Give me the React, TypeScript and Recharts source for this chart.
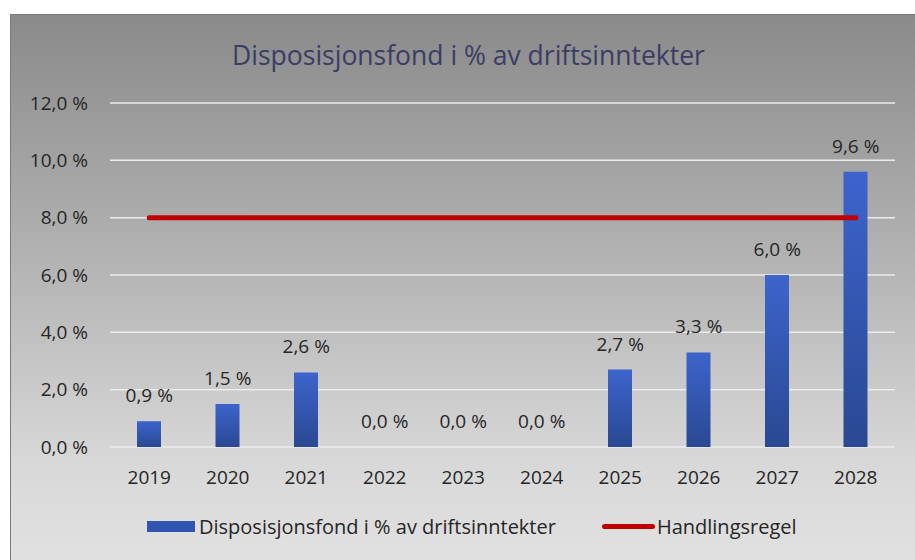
import { Bar, ComposedChart, LabelList, Line, XAxis, YAxis, CartesianGrid } from "recharts";

// Disposisjonsfond i % av driftsinntekter, 2019-2028
const years = ["2019", "2020", "2021", "2022", "2023", "2024", "2025", "2026", "2027", "2028"];
const fond = [0.9, 1.5, 2.6, 0, 0, 0, 2.7, 3.3, 6.0, 9.6];
const regel = [8, 8, 8, 8, 8, 8, 8, 8, 8, 8];
const yTicks = [0, 2, 4, 6, 8, 10, 12];

const FONT = "'Open Sans', sans-serif";
const TEXT = "#262626";
const BAR_NAME = "Disposisjonsfond i % av driftsinntekter";
const LINE_NAME = "Handlingsregel";

const data = years.map((year, i) => ({ year, fond: fond[i], regel: regel[i] }));

const pct = (v: number) => `${v.toFixed(1).replace(".", ",")} %`;

// one-line value label above each bar top; hung on an invisible line through the
// bar tops, because the bar's own label list skips the 0,0 % bars
function ValueLabel(props: any) {
  const { x, y, value } = props;
  return (
    <text x={Number(x)} y={Number(y) - 19} textAnchor="middle" fill={TEXT} fontSize={19} fontFamily={FONT}>
      {pct(Number(value))}
    </text>
  );
}

function LegendView() {
  return (
    <div
      style={{
        position: "absolute",
        left: 147,
        top: 513,
        display: "flex",
        alignItems: "center",
        fontFamily: FONT,
        fontSize: 20,
        color: TEXT,
        whiteSpace: "nowrap",
      }}
    >
      <span style={{ display: "inline-block", width: 48, height: 11, background: "#2f55b0", marginRight: 4 }} />
      <span style={{ marginRight: 46 }}>{BAR_NAME}</span>
      <span style={{ display: "inline-block", width: 53, height: 5, borderRadius: 3, background: "#c00000", marginRight: 2 }} />
      <span>{LINE_NAME}</span>
    </div>
  );
}

export default function App() {
  return (
    <div
      style={{
        position: "absolute",
        left: 0,
        top: 0,
        width: 915,
        height: 560,
        background: "#fff",
        overflow: "hidden",
      }}
    >
      <div
        style={{
          position: "absolute",
          left: 10,
          top: 14,
          width: 910,
          height: 560,
          borderLeft: "1px solid #7a7a7a",
          borderTop: "1px solid #7a7a7a",
          background: "linear-gradient(to bottom, #8a8a8a 0%, #b4b4b4 45%, #d8d8d8 80%, #e2e2e2 100%)",
        }}
      />
      <div
        style={{
          position: "absolute",
          left: 0,
          top: 37,
          width: 937,
          textAlign: "center",
          fontFamily: FONT,
          fontSize: 26.5,
          color: "#3a3d64",
        }}
      >
        {BAR_NAME}
      </div>
      <div style={{ position: "absolute", left: 0, top: 0 }}>
        <ComposedChart width={915} height={560} data={data} margin={{ top: 103, right: 20, bottom: 0, left: 0 }}>
          <defs>
            <linearGradient id="barFill" x1="0" y1="0" x2="0" y2="1">
              <stop offset="0%" stopColor="#3c64cc" />
              <stop offset="100%" stopColor="#2a4892" />
            </linearGradient>
          </defs>
          <CartesianGrid vertical={false} stroke="#ececec" strokeWidth={1.5} />
          <XAxis
            dataKey="year"
            axisLine={false}
            tickLine={false}
            tickSize={0}
            tickMargin={24}
            height={113}
            tick={{ fill: TEXT, fontSize: 19, fontFamily: FONT }}
          />
          <YAxis
            domain={[0, 12]}
            ticks={yTicks}
            tickFormatter={pct}
            axisLine={false}
            tickLine={false}
            tickSize={0}
            tickMargin={22}
            width={110}
            tick={{ fill: TEXT, fontSize: 19, fontFamily: FONT }}
          />
          <Bar dataKey="fond" name={BAR_NAME} fill="url(#barFill)" barSize={24} isAnimationActive={false} />
          <Line
            dataKey="fond"
            stroke="none"
            dot={false}
            activeDot={false}
            legendType="none"
            isAnimationActive={false}
          >
            <LabelList dataKey="fond" content={ValueLabel} />
          </Line>
          <Line
            dataKey="regel"
            name={LINE_NAME}
            stroke="#c00000"
            strokeWidth={5}
            strokeLinecap="round"
            dot={false}
            activeDot={false}
            isAnimationActive={false}
          />
        </ComposedChart>
      </div>
      <LegendView />
    </div>
  );
}
